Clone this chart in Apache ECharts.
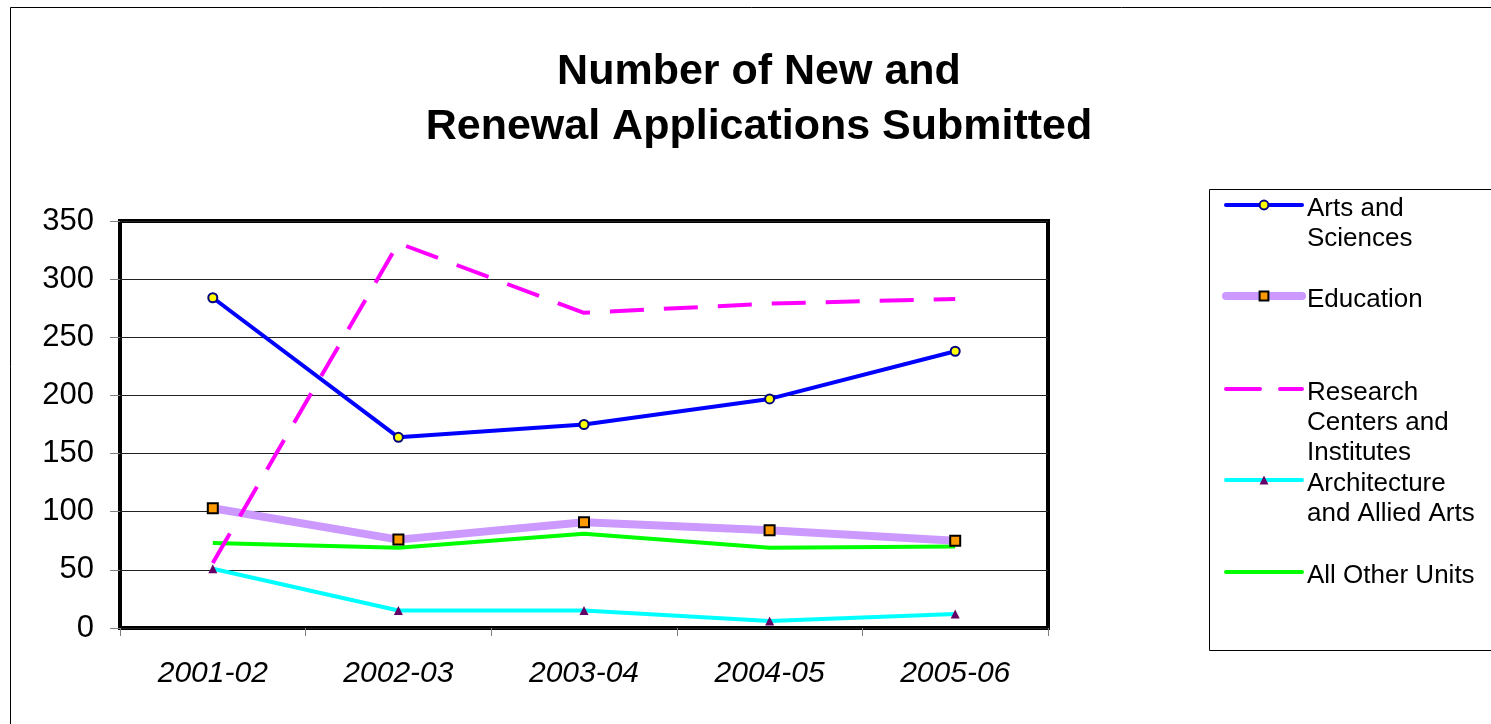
<!DOCTYPE html>
<html>
<head>
<meta charset="utf-8">
<script src="https://cdn.jsdelivr.net/npm/echarts@6/dist/echarts.min.js"></script>
<style>
html,body{margin:0;padding:0;background:#fff;}
#chart{width:1491px;height:724px;}
</style>
</head>
<body>
<div id="chart"></div>
<script>
// ---- data ----
const categories = ['2001-02', '2002-03', '2003-04', '2004-05', '2005-06'];
const artsSciences = [284, 164, 175, 197, 238];
const education = [103, 76, 91, 84, 75];
const researchCenters = [56, 331, 271, 279, 283];
const architecture = [51, 15, 15, 6, 12];
const allOther = [73, 69, 81, 69, 70];
const yTicks = [0, 50, 100, 150, 200, 250, 300, 350];
const seriesNames = ['Arts and Sciences', 'Education', 'Research Centers and Institutes', 'Architecture and Allied Arts', 'All Other Units'];
const legendLabels = {
  'Arts and Sciences': ['Arts and', 'Sciences'],
  'Education': ['Education'],
  'Research Centers and Institutes': ['Research', 'Centers and', 'Institutes'],
  'Architecture and Allied Arts': ['Architecture', 'and Allied Arts'],
  'All Other Units': ['All Other Units']
};
const titleText = 'Number of New and\nRenewal Applications Submitted';

// ---- chart ----
const FONT = '"Liberation Sans", Arial, Helvetica, sans-serif';
const chart = echarts.init(document.getElementById('chart'), null, {renderer: 'canvas'});

const SPACER = 7; // small top spacer so text sits slightly below the icon
function legendFmt(name) {
  const lines = legendLabels[name];
  // prepend blank lines so the icon lines up with the first text line
  const pad = new Array(lines.length - 1).fill('{t| }');
  return ['{s| }'].concat(pad, lines.map(l => '{t|' + l + '}')).join('\n');
}
const legendIconY = [205, 296, 389, 480, 572];
const legendLineW = [4, 8, 4, 4, 4];
const legendHideSymbol = [false, false, true, false, true];
const legends = seriesNames.map((n, i) => {
  const nLines = legendLabels[n].length;
  const h = (2 * nLines - 1) * 30 + SPACER;
  const lg = {
    data: [n],
    left: 1226 - legendLineW[i] / 2,
    top: legendIconY[i] - h / 2,
    padding: 0,
    itemWidth: 76,
    itemHeight: 11,
    selectedMode: false,
    formatter: legendFmt,
    lineStyle: {width: legendLineW[i], cap: 'round'},
    textStyle: {
      fontSize: 26, fontFamily: FONT, color: '#000', lineHeight: 30,
      rich: {
        s: {fontSize: SPACER, lineHeight: SPACER, height: SPACER},
        t: {fontSize: 26, fontFamily: FONT, color: '#000', lineHeight: 30}
      }
    }
  };
  if (legendHideSymbol[i]) {
    lg.itemStyle = {color: 'rgba(0,0,0,0)', borderWidth: 0, opacity: 0};
  }
  return lg;
});

const option = {
  backgroundColor: '#fff',
  animation: false,
  title: {
    text: titleText,
    left: 754,
    top: 40,
    textAlign: 'center',
    textStyle: {fontSize: 43, fontWeight: 'bold', fontFamily: FONT, color: '#000', lineHeight: 55}
  },
  legend: legends,
  graphic: [
    {type: 'rect', shape: {x: 10.5, y: 7.5, width: 1600, height: 800}, style: {fill: 'none', stroke: '#000', lineWidth: 1}, silent: true, z: -1},
    {type: 'rect', shape: {x: 1209.5, y: 189.5, width: 400, height: 461}, style: {fill: 'none', stroke: '#000', lineWidth: 1}, silent: true, z: -1}
  ],
  grid: {
    left: 120, top: 221, width: 928, height: 407,
    show: true, borderColor: '#000', borderWidth: 4, backgroundColor: 'transparent'
  },
  xAxis: {
    type: 'category',
    data: categories,
    boundaryGap: true,
    axisLine: {show: false},
    axisTick: {show: true, length: 8, lineStyle: {color: '#808080', width: 1}},
    axisLabel: {fontSize: 30, fontStyle: 'italic', fontFamily: FONT, color: '#000', margin: 31, lineHeight: 30},
    splitLine: {show: false}
  },
  yAxis: {
    type: 'value',
    min: yTicks[0],
    max: yTicks[yTicks.length - 1],
    interval: 50,
    axisLine: {show: false},
    axisTick: {show: true, length: 10, lineStyle: {color: '#808080', width: 1}},
    axisLabel: {fontSize: 31, fontFamily: FONT, color: '#000', margin: 26},
    splitLine: {show: true, lineStyle: {color: '#222', width: 1}}
  },
  series: [
    {
      name: seriesNames[0], type: 'line', data: artsSciences,
      symbol: 'circle', symbolSize: 9,
      lineStyle: {color: '#0000FF', width: 4},
      itemStyle: {color: '#FFFF00', borderColor: '#000080', borderWidth: 2},
      z: 5
    },
    {
      name: seriesNames[1], type: 'line', data: education,
      symbol: 'rect', symbolSize: 10,
      lineStyle: {color: '#CC99FF', width: 8},
      itemStyle: {color: '#FF9900', borderColor: '#000', borderWidth: 2},
      z: 3
    },
    {
      name: seriesNames[2], type: 'line', data: researchCenters,
      symbol: 'none',
      lineStyle: {color: '#FF00FF', width: 4, type: [34, 20]},
      itemStyle: {color: '#FF00FF'},
      z: 4
    },
    {
      name: seriesNames[3], type: 'line', data: architecture,
      symbol: 'triangle', symbolSize: 9,
      lineStyle: {color: '#00FFFF', width: 4},
      itemStyle: {color: '#660066', borderWidth: 0},
      z: 3
    },
    {
      name: seriesNames[4], type: 'line', data: allOther,
      symbol: 'none',
      lineStyle: {color: '#00FF00', width: 4},
      itemStyle: {color: '#00FF00'},
      z: 2
    }
  ]
};
chart.setOption(option);
</script>
</body>
</html>
